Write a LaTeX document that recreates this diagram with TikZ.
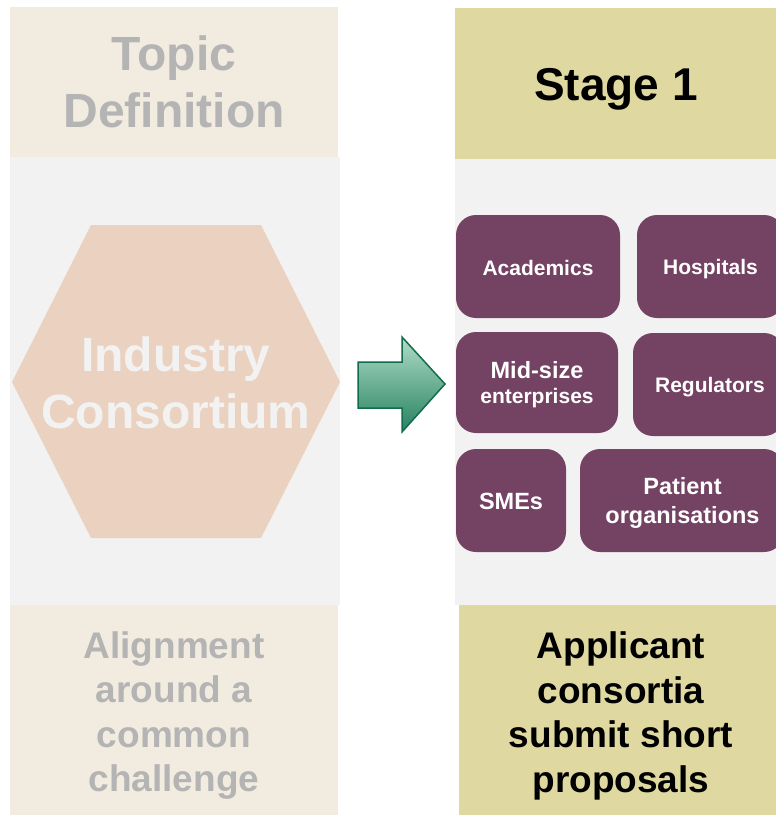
\documentclass[tikz,border=0pt]{standalone}
\usepackage{fontspec}
\setmainfont{Liberation Sans}
\usepackage{tikz}
\definecolor{headbeige}{RGB}{242,235,223}
\definecolor{bodygray}{RGB}{242,242,242}
\definecolor{hexpeach}{RGB}{235,209,191}
\definecolor{fadetext}{RGB}{180,180,180}
\definecolor{headolive}{RGB}{223,216,160}
\definecolor{plum}{RGB}{116,66,98}
\definecolor{arrowtop}{RGB}{176,220,200}
\definecolor{arrowbot}{RGB}{38,130,96}
\definecolor{arrowline}{RGB}{18,108,78}
\tikzstyle{lhead} = [text=fadetext, align=center, font=\bfseries\fontsize{48}{57}\selectfont]
\tikzstyle{lfoot} = [text=fadetext, align=center, font=\bfseries\fontsize{37}{44.5}\selectfont]
\tikzstyle{rhead} = [text=black, align=center, font=\bfseries\fontsize{46}{55}\selectfont]
\tikzstyle{rfoot} = [text=black, align=center, font=\bfseries\fontsize{37}{44.5}\selectfont]
\tikzstyle{hextext} = [text=bodygray, align=center, font=\bfseries\fontsize{48}{57}\selectfont]
\tikzstyle{plumbox} = [fill=plum, rounded corners=20pt]
\tikzstyle{party} = [text=white, align=center, font=\bfseries\fontsize{21}{25}\selectfont]
\tikzstyle{bigparty} = [party, font=\bfseries\fontsize{23.5}{29}\selectfont]

\begin{document}
\begin{tikzpicture}[x=1pt, y=-1pt]
  \clip (0,0) rectangle (776,815);
  \fill [white] (0,0) rectangle (776,815);
  \fill [bodygray] (10,157) rectangle (340,605);
  \fill [bodygray] (455,158) rectangle (790,605);
  \fill [headbeige] (10,7) rectangle (338,157);
  \fill [headbeige] (10,605) rectangle (338,815);
  \fill [headolive] (455,8) rectangle (790,159);
  \fill [headolive] (459,605) rectangle (790,815);
  \fill [hexpeach] (91,225) -- (261,225) -- (340,382) -- (261,538) -- (91,538) -- (12,382) -- cycle;
  \fill [plumbox] (456,215) rectangle (620,318);
  \fill [plumbox] (637,215) rectangle (784,318);
  \fill [plumbox] (456,332) rectangle (618,433);
  \fill [plumbox] (633,333) rectangle (784,436);
  \fill [plumbox] (456,449) rectangle (566,552);
  \fill [plumbox] (580,449) rectangle (784,552);
  \node (a) at (174,82) [lhead] {Topic\\Definition};
  \node (b) at (174,715.5) [lfoot] {Alignment\\around a\\common\\challenge};
  \node (c) at (176,383) [hextext] {Industry\\Consortium};
  \node (d) at (616,89) [rhead] {Stage 1};
  \node (e) at (621,716) [rfoot] {Applicant\\consortia\\submit short\\proposals};
  \node (f) at (538,267.5) [party] {Academics};
  \node (g) at (710.5,269.5) [party] {Hospitals};
  \node (h) at (537,385) [party] {{\fontsize{23.5}{25}\selectfont Mid-size}\\enterprises};
  \node (i) at (710,387.5) [party] {Regulators};
  \node (j) at (511,501) [bigparty] {SMEs};
  \node (k) at (682.5,503) [bigparty] {Patient\\organisations};
  \draw [arrowline, line width=1.5pt, top color=arrowtop, bottom color=arrowbot] (358,362) -- (402,362) -- (402,337) -- (445,384) -- (402,432) -- (402,408) -- (358,408) -- cycle;
\end{tikzpicture}
\end{document}
